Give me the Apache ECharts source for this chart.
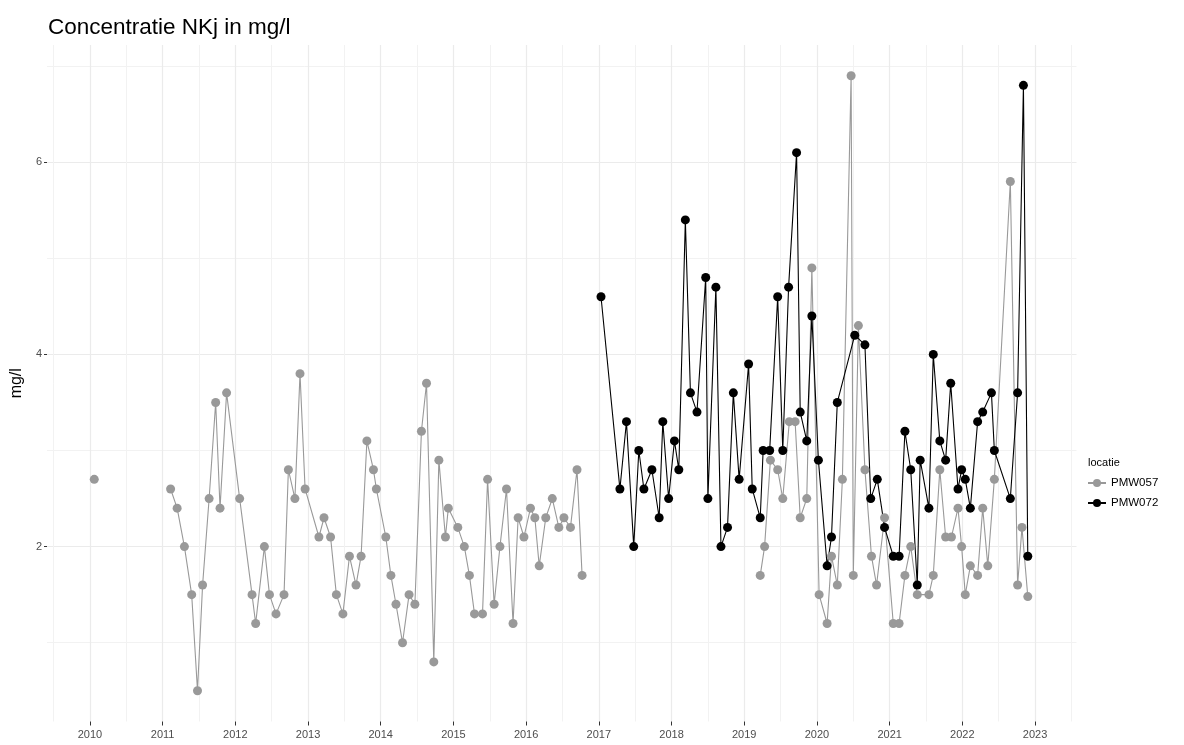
<!DOCTYPE html>
<html>
<head>
<meta charset="utf-8">
<script src="https://cdn.jsdelivr.net/npm/echarts@6/dist/echarts.min.js"></script>
<style>
html,body{margin:0;padding:0;background:#fff;}
#c{width:1184px;height:745px;}
</style>
</head>
<body>
<div id="c"></div>
<script>
// ---- data (decimal years) ----
const yearTicks = [2010, 2011, 2012, 2013, 2014, 2015, 2016, 2017, 2018, 2019, 2020, 2021, 2022, 2023];
const yTicks = [2, 4, 6];

// PMW057 (null = gap in the line)
const years057 = [2010.06, 2010.6,
  2011.11, 2011.20, 2011.30, 2011.40, 2011.48, 2011.55, 2011.64, 2011.73, 2011.79, 2011.88,
  2012.06, 2012.23, 2012.28, 2012.40, 2012.47, 2012.56, 2012.67, 2012.73, 2012.82, 2012.89, 2012.96,
  2013.15, 2013.22, 2013.31, 2013.39, 2013.48, 2013.57, 2013.66, 2013.73, 2013.81, 2013.90, 2013.94,
  2014.07, 2014.14, 2014.21, 2014.30, 2014.39, 2014.47, 2014.56, 2014.63, 2014.73, 2014.80, 2014.89, 2014.93,
  2015.06, 2015.15, 2015.22, 2015.29, 2015.40, 2015.47, 2015.56, 2015.64, 2015.73, 2015.82, 2015.89, 2015.97,
  2016.06, 2016.12, 2016.18, 2016.27, 2016.36, 2016.45, 2016.52, 2016.61, 2016.70, 2016.77, 2018.0,
  2019.22, 2019.28, 2019.36, 2019.46, 2019.53, 2019.62, 2019.70, 2019.77, 2019.86, 2019.93,
  2020.03, 2020.14, 2020.20, 2020.28, 2020.35, 2020.47, 2020.50, 2020.57, 2020.66, 2020.75, 2020.82, 2020.93,
  2021.05, 2021.13, 2021.21, 2021.29, 2021.38, 2021.54, 2021.60, 2021.69, 2021.77, 2021.85, 2021.94, 2021.99,
  2022.04, 2022.11, 2022.21, 2022.28, 2022.35, 2022.44, 2022.66, 2022.76, 2022.82, 2022.90];
const values057 = [2.7, null,
  2.6, 2.4, 2.0, 1.5, 0.5, 1.6, 2.5, 3.5, 2.4, 3.6,
  2.5, 1.5, 1.2, 2.0, 1.5, 1.3, 1.5, 2.8, 2.5, 3.8, 2.6,
  2.1, 2.3, 2.1, 1.5, 1.3, 1.9, 1.6, 1.9, 3.1, 2.8, 2.6,
  2.1, 1.7, 1.4, 1.0, 1.5, 1.4, 3.2, 3.7, 0.8, 2.9, 2.1, 2.4,
  2.2, 2.0, 1.7, 1.3, 1.3, 2.7, 1.4, 2.0, 2.6, 1.2, 2.3, 2.1,
  2.4, 2.3, 1.8, 2.3, 2.5, 2.2, 2.3, 2.2, 2.8, 1.7, null,
  1.7, 2.0, 2.9, 2.8, 2.5, 3.3, 3.3, 2.3, 2.5, 4.9,
  1.5, 1.2, 1.9, 1.6, 2.7, 6.9, 1.7, 4.3, 2.8, 1.9, 1.6, 2.3,
  1.2, 1.2, 1.7, 2.0, 1.5, 1.5, 1.7, 2.8, 2.1, 2.1, 2.4, 2.0,
  1.5, 1.8, 1.7, 2.4, 1.8, 2.7, 5.8, 1.6, 2.2, 1.48];

// PMW072
const years072 = [2017.03, 2017.29, 2017.38, 2017.48, 2017.55, 2017.62, 2017.73, 2017.83, 2017.88, 2017.96,
  2018.04, 2018.10, 2018.19, 2018.26, 2018.35, 2018.47, 2018.50, 2018.61, 2018.68, 2018.77, 2018.85, 2018.93,
  2019.06, 2019.11, 2019.22, 2019.26, 2019.35, 2019.46, 2019.53, 2019.61, 2019.72, 2019.77, 2019.86, 2019.93,
  2020.02, 2020.14, 2020.20, 2020.28, 2020.52, 2020.66, 2020.74, 2020.83, 2020.93,
  2021.05, 2021.13, 2021.21, 2021.29, 2021.38, 2021.42, 2021.54, 2021.60, 2021.69, 2021.77, 2021.84, 2021.94, 2021.99,
  2022.04, 2022.11, 2022.21, 2022.28, 2022.40, 2022.44, 2022.66, 2022.76, 2022.84, 2022.90];
const values072 = [4.6, 2.6, 3.3, 2.0, 3.0, 2.6, 2.8, 2.3, 3.3, 2.5,
  3.1, 2.8, 5.4, 3.6, 3.4, 4.8, 2.5, 4.7, 2.0, 2.2, 3.6, 2.7,
  3.9, 2.6, 2.3, 3.0, 3.0, 4.6, 3.0, 4.7, 6.1, 3.4, 3.1, 4.4,
  2.9, 1.8, 2.1, 3.5, 4.2, 4.1, 2.5, 2.7, 2.2,
  1.9, 1.9, 3.2, 2.8, 1.6, 2.9, 2.4, 4.0, 3.1, 2.9, 3.7, 2.6, 2.8,
  2.7, 2.4, 3.3, 3.4, 3.6, 3.0, 2.5, 3.6, 6.8, 1.9];

const seriesNames = ['PMW057', 'PMW072'];
const colors = ['#999999', '#000000'];

// ---- build ----
const lineData = (xs, vs) => xs.map((x, i) => [x, vs[i] === null ? '-' : vs[i]]);
const pointData = (xs, vs) => xs.map((x, i) => [x, vs[i]]).filter(d => d[1] !== null);
const halfYears = yearTicks.map(y => y - 0.5).concat([yearTicks[yearTicks.length - 1] + 0.5]);
const oddTicks = [1, 3, 5, 7];

const FONT = '"Liberation Sans", Arial, sans-serif';
const xMin = 2009.41, xMax = 2023.57, yMin = 0.18, yMax = 7.22;

const chart = echarts.init(document.getElementById('c'), null, {renderer: 'canvas'});
chart.setOption({
  animation: false,
  backgroundColor: '#ffffff',
  textStyle: {fontFamily: FONT},
  title: [
    {text: 'Concentratie NKj in mg/l', left: 43, top: 11,
     textStyle: {fontFamily: FONT, fontSize: 22.5, fontWeight: 'normal', color: '#000'}},
    {text: 'locatie', left: 1083, top: 452,
     textStyle: {fontFamily: FONT, fontSize: 11, fontWeight: 'normal', color: '#000'}}
  ],
  legend: {
    data: seriesNames,
    orient: 'vertical',
    left: 1082, top: 472,
    itemWidth: 18, itemHeight: 10, itemGap: 8,
    textStyle: {fontFamily: FONT, fontSize: 11.5, color: '#000'}
  },
  grid: {left: 47, right: 107.5, top: 45, bottom: 23.5, containLabel: false},
  xAxis: [
    {type: 'value', min: xMin, max: xMax,
     axisLine: {show: false},
     axisTick: {show: true, length: 4, customValues: yearTicks, lineStyle: {color: '#333', width: 1}},
     axisLabel: {customValues: yearTicks, margin: 8, fontSize: 11, color: '#4d4d4d', fontFamily: FONT,
                 formatter: v => String(Math.round(v))},
     splitLine: {show: true, lineStyle: {color: '#ebebeb', width: 1.2}}},
    {type: 'value', min: xMin, max: xMax, position: 'bottom',
     axisLine: {show: false}, axisLabel: {show: false},
     axisTick: {show: false, customValues: halfYears},
     splitLine: {show: true, lineStyle: {color: '#f2f2f2', width: 1}}}
  ],
  yAxis: [
    {type: 'value', min: yMin, max: yMax,
     name: 'mg/l', nameLocation: 'middle', nameGap: 15, nameRotate: 90,
     nameTextStyle: {fontFamily: FONT, fontSize: 16, color: '#000'},
     axisLine: {show: false},
     axisTick: {show: true, length: 3, customValues: yTicks, lineStyle: {color: '#333', width: 1}},
     axisLabel: {customValues: yTicks, margin: 5, fontSize: 11, color: '#4d4d4d', fontFamily: FONT},
     splitLine: {show: true, lineStyle: {color: '#ebebeb', width: 1.2}}},
    {type: 'value', min: yMin, max: yMax,
     axisLine: {show: false}, axisLabel: {show: false},
     axisTick: {show: false, customValues: oddTicks},
     splitLine: {show: true, lineStyle: {color: '#f2f2f2', width: 1}}}
  ],
  series: [
    {name: seriesNames[0], type: 'line', data: lineData(years057, values057),
     showSymbol: false, symbol: 'circle', symbolSize: 9, connectNulls: false,
     itemStyle: {color: colors[0], opacity: 1}, lineStyle: {color: colors[0], width: 1.1}, z: 2},
    {name: seriesNames[1], type: 'line', data: lineData(years072, values072),
     showSymbol: false, symbol: 'circle', symbolSize: 9,
     itemStyle: {color: colors[1], opacity: 1}, lineStyle: {color: colors[1], width: 1.1}, z: 2},
    {name: seriesNames[0] + '_pts', type: 'scatter', data: pointData(years057, values057),
     symbol: 'circle', symbolSize: 9, itemStyle: {color: colors[0], opacity: 1}, z: 3},
    {name: seriesNames[1] + '_pts', type: 'scatter', data: pointData(years072, values072),
     symbol: 'circle', symbolSize: 9, itemStyle: {color: colors[1], opacity: 1}, z: 3}
  ]
});
</script>
</body>
</html>
